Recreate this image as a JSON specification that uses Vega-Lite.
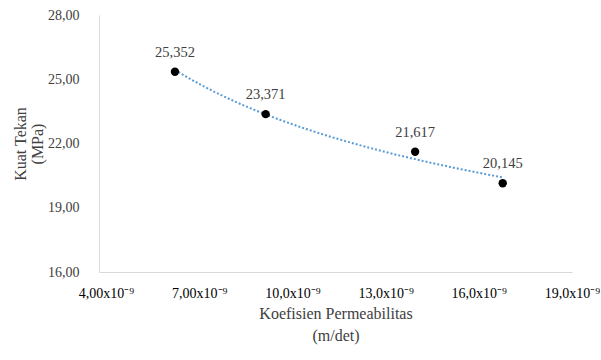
{
  "$schema": "https://vega.github.io/schema/vega-lite/v6.json",
  "autosize": "none",
  "width": 473,
  "height": 257,
  "padding": {"left": 99, "top": 15, "right": 29, "bottom": 88},
  "background": "white",
  "config": {
    "view": {"stroke": null},
    "font": "'Liberation Serif', serif",
    "locale": {"number": {"decimal": ",", "thousands": ".", "grouping": [3], "currency": ["", ""]}}
  },
  "data": {
    "values": [
      {"permeabilitas": 6.22, "kuat_tekan": 25.352},
      {"permeabilitas": 9.14, "kuat_tekan": 23.371},
      {"permeabilitas": 13.95, "kuat_tekan": 21.617},
      {"permeabilitas": 16.77, "kuat_tekan": 20.145}
    ]
  },
  "encoding": {
    "x": {
      "field": "permeabilitas", "type": "quantitative",
      "scale": {"domain": [3.775, 19], "nice": false, "zero": false},
      "axis": {
        "values": [4, 7, 10, 13, 16, 19],
        "labelExpr": "replace(format(datum.value, datum.value < 10 ? '.2f' : '.1f'), '.', ',') + 'x10⁻⁹'",
        "grid": false, "ticks": false,
        "domainColor": "#d9d9d9", "domainWidth": 1,
        "labelFont": "'Liberation Serif', serif", "labelFontSize": 14, "labelColor": "#000000",
        "labelPadding": 14, "labelFlush": false, "labelOverlap": false,
        "title": ["Koefisien Permeabilitas", "(m/det)"],
        "titleFont": "'Liberation Serif', serif", "titleFontSize": 16, "titleFontWeight": "normal",
        "titleColor": "#404040", "titlePadding": 5, "titleLineHeight": 22
      }
    },
    "y": {
      "field": "kuat_tekan", "type": "quantitative",
      "scale": {"domain": [16, 28], "nice": false, "zero": false},
      "axis": {
        "values": [16, 19, 22, 25, 28],
        "labelExpr": "replace(format(datum.value, '.2f'), '.', ',')",
        "grid": false, "ticks": false,
        "domainColor": "#d9d9d9", "domainWidth": 1,
        "labelFont": "'Liberation Serif', serif", "labelFontSize": 14, "labelColor": "#404040",
        "labelPadding": 20,
        "title": ["Kuat Tekan", "(MPa)"],
        "titleFont": "'Liberation Serif', serif", "titleFontSize": 16, "titleFontWeight": "normal",
        "titleColor": "#404040", "titlePadding": 2, "titleLineHeight": 17
      }
    }
  },
  "layer": [
    {
      "transform": [{"regression": "kuat_tekan", "on": "permeabilitas", "method": "pow"}],
      "mark": {"type": "line", "color": "#5B9BD5", "strokeDash": [2, 2], "strokeWidth": 2}
    },
    {
      "mark": {"type": "circle", "color": "#000000", "opacity": 1, "size": 70}
    },
    {
      "mark": {"type": "text", "dy": -19, "font": "'Liberation Serif', serif", "fontSize": 14.5, "color": "#404040"},
      "encoding": {"text": {"field": "kuat_tekan", "type": "quantitative", "format": ".3f"}}
    }
  ]
}
